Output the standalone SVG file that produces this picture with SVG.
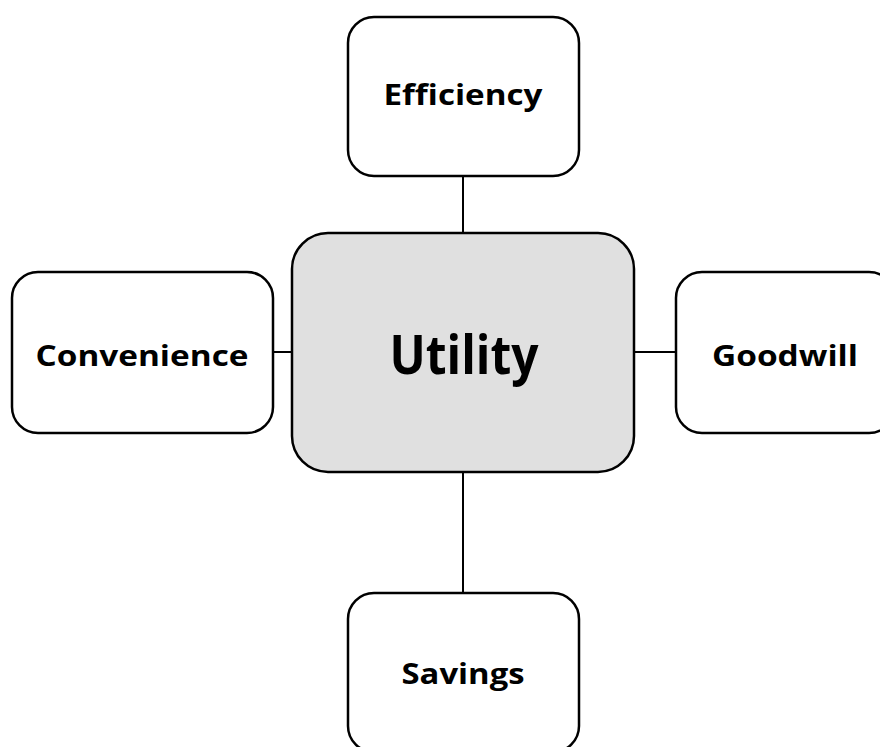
<svg xmlns="http://www.w3.org/2000/svg" width="880" height="747" viewBox="0 0 880 747">
  <style>
    .box { fill: #ffffff; stroke: #000000; stroke-width: 2.5; }
    .hub { fill: #e0e0e0; stroke: #000000; stroke-width: 2.5; }
    .link { stroke: #000000; stroke-width: 2; fill: none; }
    .label { font-family: "Open Sans", "Liberation Sans", sans-serif; font-weight: 700; font-size: 29px; fill: #000000; text-anchor: middle; }
    .hub-label { font-family: "Open Sans", "Liberation Sans", sans-serif; font-weight: 700; font-size: 54px; fill: #000000; text-anchor: middle; }
  </style>
  <rect width="880" height="747" fill="#ffffff"/>

  <g id="connectors">
    <line class="link" x1="463" y1="176" x2="463" y2="233"/>
    <line class="link" x1="463" y1="472" x2="463" y2="593"/>
    <line class="link" x1="273" y1="352" x2="292" y2="352"/>
    <line class="link" x1="634" y1="352" x2="676" y2="352"/>
  </g>

  <g id="utility">
    <rect class="hub" x="292" y="233" width="342" height="239" rx="36" ry="36"/>
    <text class="hub-label" x="464" y="374" textLength="149" lengthAdjust="spacingAndGlyphs">Utility</text>
  </g>

  <g id="efficiency">
    <rect class="box" x="348" y="17" width="231" height="159" rx="26" ry="26"/>
    <text class="label" x="463" y="105" textLength="159" lengthAdjust="spacingAndGlyphs">Efficiency</text>
  </g>

  <g id="convenience">
    <rect class="box" x="12" y="272" width="261" height="161" rx="26" ry="26"/>
    <text class="label" x="142" y="366" textLength="213" lengthAdjust="spacingAndGlyphs">Convenience</text>
  </g>

  <g id="goodwill">
    <rect class="box" x="676" y="272" width="219" height="161" rx="26" ry="26"/>
    <text class="label" x="785" y="366" textLength="146" lengthAdjust="spacingAndGlyphs">Goodwill</text>
  </g>

  <g id="savings">
    <rect class="box" x="348" y="593" width="231" height="159" rx="26" ry="26"/>
    <text class="label" x="463" y="684" textLength="123" lengthAdjust="spacingAndGlyphs">Savings</text>
  </g>
</svg>
